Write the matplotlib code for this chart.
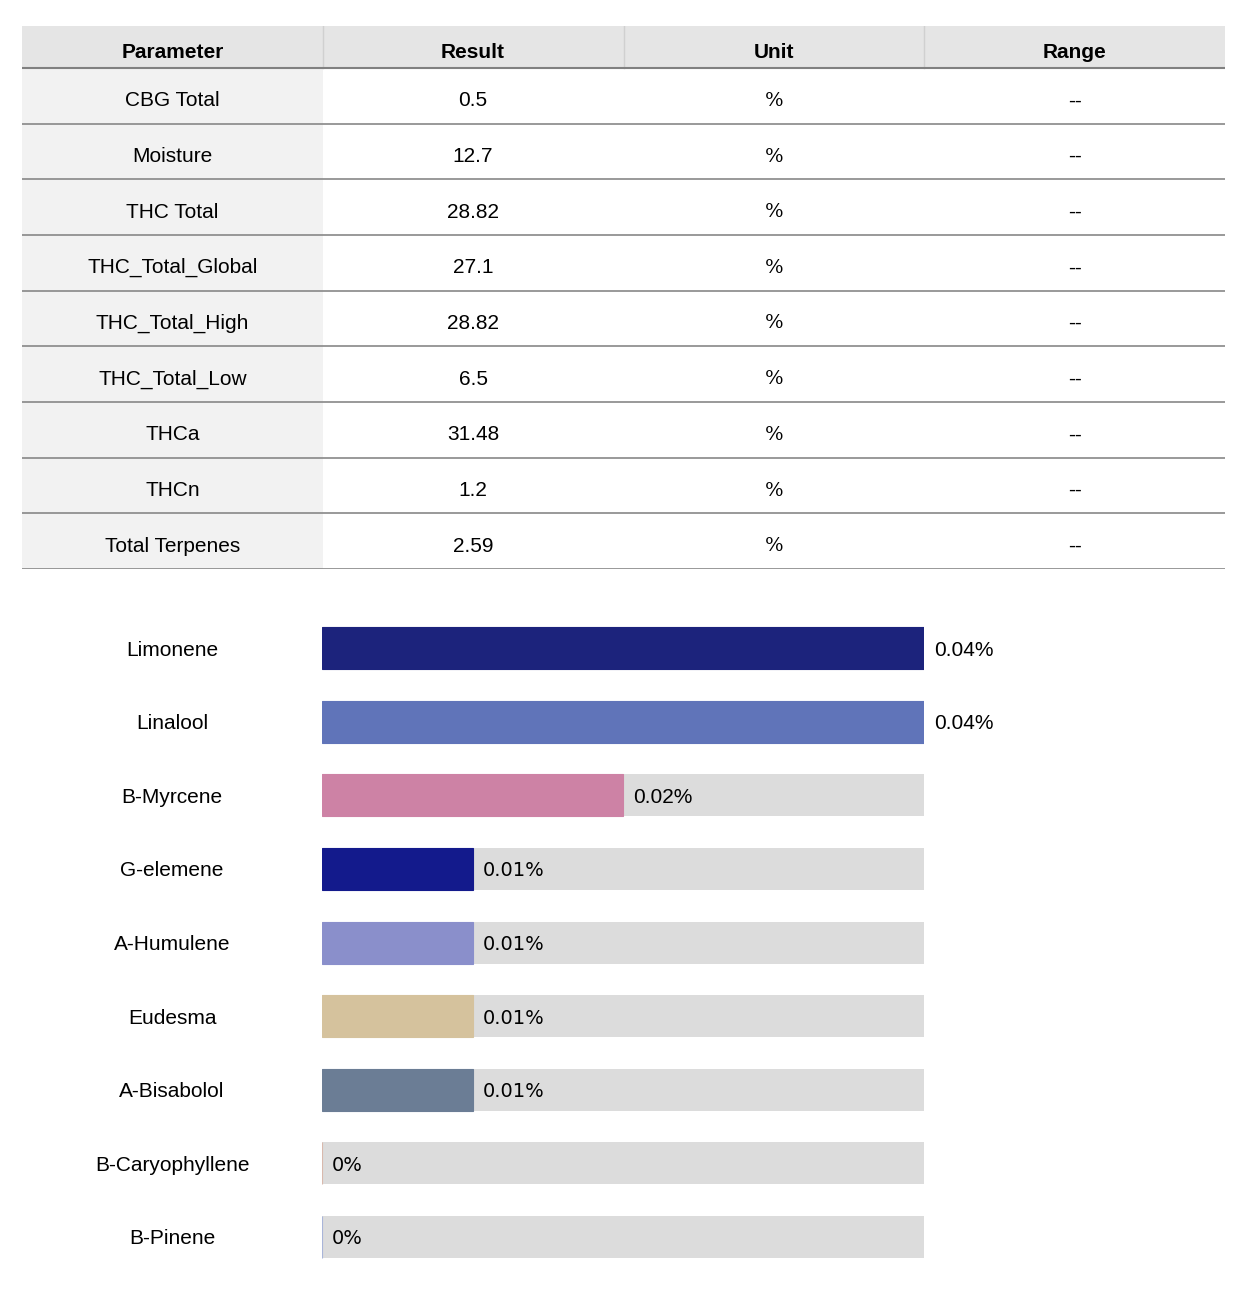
import matplotlib
matplotlib.use("Agg")
import matplotlib.pyplot as plt
from matplotlib.patches import Rectangle

# ---- data ----
headers = ["Parameter", "Result", "Unit", "Range"]
params = ["CBG Total", "Moisture", "THC Total", "THC_Total_Global", "THC_Total_High",
          "THC_Total_Low", "THCa", "THCn", "Total Terpenes"]
results = ["0.5", "12.7", "28.82", "27.1", "28.82", "6.5", "31.48", "1.2", "2.59"]
units = ["%"] * 9
ranges = ["--"] * 9

terpenes = ["Limonene", "Linalool", "B-Myrcene", "G-elemene", "A-Humulene",
            "Eudesma", "A-Bisabolol", "B-Caryophyllene", "B-Pinene"]
terp_values = [0.04, 0.04, 0.02, 0.01, 0.01, 0.01, 0.01, 0.0, 0.0]
terp_labels = ["0.04%", "0.04%", "0.02%", "0.01%", "0.01%", "0.01%", "0.01%", "0%", "0%"]
terp_colors = ["#1c237c", "#6074b9", "#cd82a5", "#131a8c", "#8a8fcb",
               "#d5c29d", "#6b7d95", "#d9b9ad", "#a9b5d9"]
max_value = 0.04

W, H = 1240, 1312
fig = plt.figure(figsize=(W / 100, H / 100), dpi=100)
fig.patch.set_facecolor("white")

SANS = "Liberation Sans"

# ---- table ----
tx0, tx1, ty0, ty1 = 22, 1225, 26, 569
tax = fig.add_axes([tx0 / W, 1 - ty1 / H, (tx1 - tx0) / W, (ty1 - ty0) / H])
tax.set_xlim(0, tx1 - tx0)
tax.set_ylim(ty1 - ty0, 0)
tax.axis("off")
ncol = len(headers)
colw = (tx1 - tx0) / ncol
hh = 42
nrow = len(params)
rh = (ty1 - ty0 - hh) / nrow

tax.add_patch(Rectangle((0, 0), tx1 - tx0, hh, facecolor="#e5e5e5", edgecolor="none"))
tax.add_patch(Rectangle((0, hh), colw, rh * nrow, facecolor="#f2f2f2", edgecolor="none"))
for c in range(1, ncol):
    tax.plot([c * colw, c * colw], [0, hh], color="#d0d0d0", lw=1)
for c, h in enumerate(headers):
    tax.text((c + 0.5) * colw, hh / 2 + 5, h, ha="center", va="center",
             fontsize=15, fontweight="bold", family=SANS, color="black")
tax.plot([0, tx1 - tx0], [hh, hh], color="#808080", lw=1.5)
cols = [params, results, units, ranges]
for r in range(nrow):
    yc = hh + (r + 0.5) * rh + 5
    for c in range(ncol):
        fam = "DejaVu Serif" if c == 2 else SANS
        fs = 14 if c == 2 else 15
        tax.text((c + 0.5) * colw, yc, cols[c][r], ha="center", va="center",
                 fontsize=fs, family=fam, color="black")
    yb = hh + (r + 1) * rh
    tax.plot([0, tx1 - tx0], [yb, yb], color="#888888", lw=1.2)

# ---- bars ----
bx0, bx1 = 322, 924
c0, c8 = 648, 1237
sp = (c8 - c0) / (len(terpenes) - 1)
btop = c0 - sp / 2
bbot = c8 + sp / 2
bax = fig.add_axes([bx0 / W, 1 - bbot / H, (bx1 - bx0) / W, (bbot - btop) / H])
bax.set_xlim(0, max_value)
bax.set_ylim(len(terpenes) - 0.5, -0.5)
bax.axis("off")
idx = list(range(len(terpenes)))
bh = 42 / sp
bax.barh(idx, [max_value] * len(idx), height=bh, color="#dcdcdc", edgecolor="none")
bax.barh(idx, terp_values, height=bh, color=terp_colors, edgecolor=terp_colors, linewidth=0.8)
off = 10 / (bx1 - bx0) * max_value
dy = 2 / sp
for i, (name, v, lab) in enumerate(zip(terpenes, terp_values, terp_labels)):
    bax.text((172 - bx0) / (bx1 - bx0) * max_value, i + dy, name, ha="center", va="center",
             fontsize=15, family=SANS, color="black")
    if v >= 0.02:
        bax.text(v + off, i + dy, lab, ha="left", va="center", fontsize=15,
                 family=SANS, color="black")
    else:
        bax.text(v + off, i + dy, lab, ha="left", va="center", fontsize=14,
                 family="DejaVu Sans", color="black")

fig.savefig("out.png", dpi=100, facecolor="white")
